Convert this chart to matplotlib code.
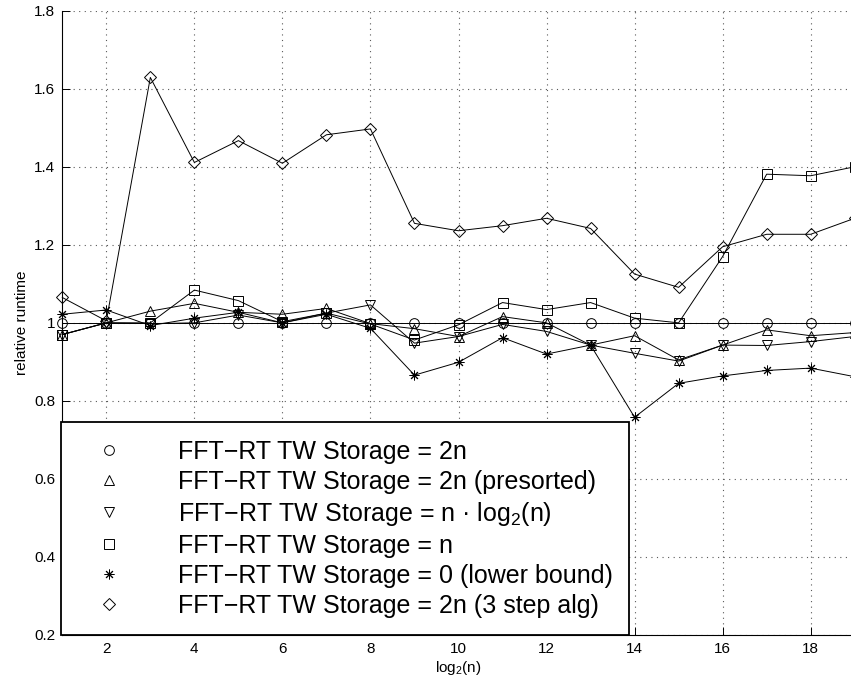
import matplotlib
matplotlib.use("Agg")
import matplotlib.pyplot as plt

plt.rcParams['font.family'] = ['Liberation Sans', 'DejaVu Sans']
plt.rcParams['mathtext.fontset'] = 'custom'
plt.rcParams['mathtext.rm'] = 'Liberation Sans'
plt.rcParams['mathtext.it'] = 'Liberation Sans:italic'

# log2(n) sample points
log2n = list(range(1, 20))

# relative runtime of each variant
storage_2n = [1.0] * 19
storage_2n_presorted = [0.97, 1.0, 1.03, 1.05, 1.027, 1.022, 1.037, 0.998, 0.985, 0.965,
                        1.016, 1.0, 0.943, 0.967, 0.905, 0.943, 0.982, 0.967, 0.975]
storage_nlogn = [0.97, 1.0, 0.998, 1.0, 1.02, 1.0, 1.025, 1.046, 0.948, 0.965,
                 0.996, 0.978, 0.943, 0.922, 0.902, 0.943, 0.942, 0.952, 0.965]
storage_n = [0.97, 1.0, 1.0, 1.084, 1.057, 1.003, 1.025, 0.997, 0.956, 0.995,
             1.052, 1.034, 1.052, 1.012, 1.0, 1.17, 1.381, 1.377, 1.40]
storage_0 = [1.022, 1.033, 0.993, 1.012, 1.027, 1.0, 1.022, 0.986, 0.866, 0.899,
             0.962, 0.920, 0.943, 0.758, 0.845, 0.864, 0.878, 0.884, 0.862]
storage_2n_3step = [1.065, 1.005, 1.629, 1.411, 1.467, 1.409, 1.482, 1.497, 1.255, 1.236,
                    1.249, 1.268, 1.242, 1.125, 1.091, 1.195, 1.227, 1.227, 1.268]

series = [
    (storage_2n, 'o', 7, "FFT\u2212RT TW Storage = 2n"),
    (storage_2n_presorted, '^', 7, "FFT\u2212RT TW Storage = 2n (presorted)"),
    (storage_nlogn, 'v', 7, "FFT\u2212RT TW Storage = n \u00b7 log$_{\\mathrm{2}}$(n)"),
    (storage_n, 's', 6.5, "FFT\u2212RT TW Storage = n"),
    (storage_0, (8, 2, 0), 7, "FFT\u2212RT TW Storage = 0 (lower bound)"),
    (storage_2n_3step, 'D', 6, "FFT\u2212RT TW Storage = 2n (3 step alg)"),
]

W, H = 851, 689
fig = plt.figure(figsize=(W / 100, H / 100), dpi=100)
x0, x1, y0, y1 = 62.3, 854.7, 10.7, 635.0
ax = fig.add_axes([x0 / W, 1 - y1 / H, (x1 - x0) / W, (y1 - y0) / H])

leg_handles = []
for vals, mk, ms, lab in series:
    ax.plot(log2n, vals, '-', color='black', lw=0.7, marker=mk,
            markersize=ms, mfc='none', mec='black', mew=0.7, clip_on=False)
    l, = ax.plot([], [], linestyle='none', marker=mk, markersize=ms,
                 mfc='none', mec='black', mew=0.7)
    leg_handles.append(l)

ax.set_xlim(1, 19)
ax.set_ylim(0.2, 1.8)
ax.set_xticks(range(2, 19, 2))
yt = [0.2, 0.4, 0.6, 0.8, 1.0, 1.2, 1.4, 1.6, 1.8]
ax.set_yticks(yt)
ax.set_yticklabels(["0.2", "0.4", "0.6", "0.8", "1", "1.2", "1.4", "1.6", "1.8"])
ax.tick_params(direction='in', length=5.5, width=0.7, labelsize=11, pad=5)
ax.spines['top'].set_visible(False)
ax.spines['right'].set_visible(False)
ax.spines['left'].set_linewidth(0.8)
ax.spines['bottom'].set_linewidth(0.8)
ax.grid(True, color='0.35', linestyle=(0, (1, 4)), linewidth=0.8)

ax.set_xlabel("log$_{\\mathrm{2}}$(n)", fontsize=11, labelpad=2)
ax.set_ylabel("relative runtime", fontsize=11, labelpad=4)

# legend box (figure pixel coords -> axes fraction)
lx0, lx1, ly_bot = 61.0, 629.3, 635.3
bx = (lx0 - x0) / (x1 - x0)
bw = (lx1 - lx0) / (x1 - x0)
by = (y1 - ly_bot) / (y1 - y0)
leg = ax.legend(leg_handles, [s[3] for s in series], loc='lower left',
                bbox_to_anchor=(bx, by, bw, 0.5), mode='expand',
                fontsize=18, numpoints=1, handlelength=2.4, handletextpad=1.6,
                borderpad=0.7, labelspacing=0.24, borderaxespad=0,
                fancybox=False, framealpha=1, edgecolor='black')
leg.get_frame().set_linewidth(1.3)
leg.set_zorder(5)

fig.savefig("out.png", dpi=100)
